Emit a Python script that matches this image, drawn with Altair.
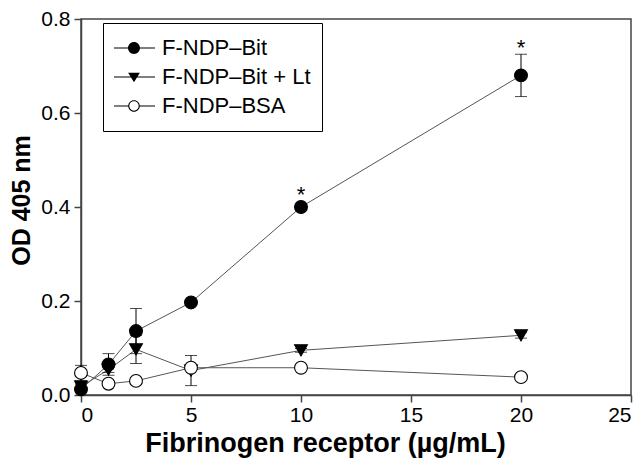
import altair as alt
import pandas as pd

# ---- data ----
conc = [0, 1.25, 2.5, 5, 10, 20]
series_names = ["F-NDP\u2013Bit", "F-NDP\u2013Bit + Lt", "F-NDP\u2013BSA"]
bit = [0.012, 0.065, 0.136, 0.197, 0.400, 0.680]
bit_err = [0.006, 0.023, 0.048, 0.004, 0.005, 0.045]
bitlt = [0.018, 0.054, 0.097, 0.052, 0.095, 0.127]
bitlt_err = [0.005, 0.006, 0.030, 0.032, 0.004, 0.006]
bsa = [0.047, 0.024, 0.030, 0.058, 0.058, 0.038]
bsa_err = [0.016, 0.003, 0.003, 0.005, 0.004, 0.003]
ast_x = [10, 20]
ast_y = [0.437, 0.749]
x_ticks = [0, 5, 10, 15, 20, 25]
y_ticks = [0.0, 0.2, 0.4, 0.6, 0.8]

rows = []
for name, vals, errs in zip(series_names, [bit, bitlt, bsa], [bit_err, bitlt_err, bsa_err]):
    for xv, v, e in zip(conc, vals, errs):
        rows.append({"series": name, "x": xv, "y": v, "lo": v - e, "hi": v + e})
df = pd.DataFrame(rows)
ast = pd.DataFrame({"x": ast_x, "y": ast_y, "t": ["*"] * len(ast_x)})

FONT = "Liberation Sans"
xscale = alt.Scale(domain=[0, 25], nice=False, zero=False)
yscale = alt.Scale(domain=[0, 0.8], nice=False)

xaxis = alt.Axis(values=x_ticks, format="d", title="Fibrinogen receptor (\u00b5g/mL)", labelPadding=2,
                 titleX=244, titleY=48, titleBaseline="middle", titleAlign="center")
yaxis = alt.Axis(values=y_ticks, format=".1f", title="OD 405 nm", titleFontSize=25,
                 titleX=-60, titleY=181, titleBaseline="middle", titleAlign="center", titleAngle=-90)

X = alt.X("x:Q", scale=xscale, axis=xaxis)
Y = alt.Y("y:Q", scale=yscale, axis=yaxis)

base = alt.Chart(df)

lines = base.mark_line(color="#555555", strokeWidth=1).encode(
    x=X, y=Y, detail="series:N", order="x:Q")

rules = base.mark_rule(color="black", strokeWidth=1).encode(
    x="x:Q", y="lo:Q", y2="hi:Q")

caps = base.transform_fold(["lo", "hi"], as_=["k", "v"]).mark_tick(
    color="black", orient="horizontal", size=12, thickness=1).encode(
    x="x:Q", y="v:Q")

pt_shapes = ["circle", "triangle-down", "circle"]
pt_fills = ["black", "black", "white"]
point_layers = []
for name, shp, fc in zip(series_names, pt_shapes, pt_fills):
    point_layers.append(
        base.transform_filter(alt.datum.series == name).mark_point(
            shape=shp, filled=True, fill=fc, size=165, stroke="black", strokeWidth=1.1, opacity=1
        ).encode(x="x:Q", y="y:Q")
    )

# legend symbols: a line with a marker, drawn as filled outlines (unit = 21 px)
bar_full = "M-1,-0.026H1V0.026H-1Z"
bar_split = "M-1,-0.026H-0.25V0.026H-1ZM0.25,-0.026H1V0.026H0.25Z"
p_dot = bar_full + "M-0.285,0A0.285,0.285,0,1,1,0.285,0A0.285,0.285,0,1,1,-0.285,0Z"
p_tri = bar_full + "M-0.28,-0.2L0.28,-0.2L0,0.25Z"
p_ring = (bar_split
          + "M-0.275,0A0.275,0.275,0,1,1,0.275,0A0.275,0.275,0,1,1,-0.275,0Z"
          + "M-0.222,0A0.222,0.222,0,1,0,0.222,0A0.222,0.222,0,1,0,-0.222,0Z")

leg = alt.Legend(title=None, orient="none", legendX=22, legendY=4, strokeColor="black",
                 padding=11, labelFont=FONT, labelFontSize=22, labelColor="black",
                 labelOffset=7, symbolSize=1764, symbolFillColor="black", symbolOpacity=1,
                 symbolStrokeWidth=0, clipHeight=28, rowPadding=1, symbolOffset=-1)

legend_layer = base.transform_filter("datum.x < -100").mark_point(
    filled=True, size=1764, color="black", strokeWidth=0, opacity=1).encode(
    x="x:Q", y="y:Q",
    shape=alt.Shape("series:N", scale=alt.Scale(domain=series_names, range=[p_dot, p_tri, p_ring]), legend=leg),
)

stars = alt.Chart(ast).mark_text(font=FONT, fontSize=22, baseline="alphabetic", dy=12, color="black").encode(
    x="x:Q", y="y:Q", text="t:N")

chart = alt.layer(lines, rules, caps, *point_layers, stars, legend_layer).properties(
    width=550, height=376,
    autosize=alt.AutoSizeParams(type="none"),
    padding={"left": 73, "top": 11, "right": 4, "bottom": 72},
).configure_view(
    stroke="#444444", strokeWidth=1.5
).configure_axis(
    grid=False, domainColor="#444444", domainWidth=1.5, tickColor="#444444", tickWidth=1.5,
    tickSize=7, labelFont=FONT, labelFontSize=21, labelColor="black", labelPadding=4,
    titleFont=FONT, titleFontSize=27, titleFontWeight="bold", titleColor="black",
)

chart.save("out.html", embed_options={"renderer": "svg", "actions": False})
